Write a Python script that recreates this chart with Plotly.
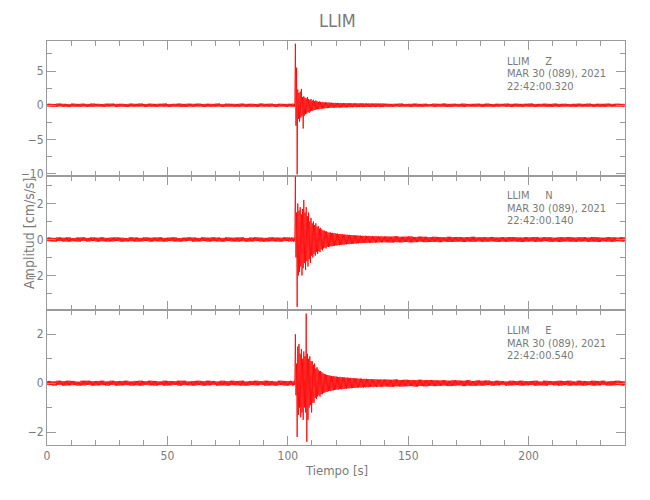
import plotly.graph_objects as go
from plotly.subplots import make_subplots

# ---------------- data ----------------
title_text = "LLIM"
station = "LLIM"
components = ["Z", "N", "E"]
date_text = "MAR 30 (089), 2021"
start_times = ["22:42:00.320", "22:42:00.140", "22:42:00.540"]
x_label = "Tiempo [s]"
y_label = "Amplitud [cm/s/s]"
x_ticks = [0, 50, 100, 150, 200]
y_ticks = [[-10, -5, 0, 5], [-4, -2, 0, 2], [-2, 0, 2]]
y_minor = [2.5, 1, 1]
y_ranges = [[-10.3, 9.4], [-3.94, 3.55], [-2.53, 2.98]]
x_range = [0, 240]

# time bins (s): 2 s bins before 100 s, 0.5 s bins 100-140 s, 2 s bins after 140 s
bin_start = list(range(0, 100, 2)) + [100 + 0.5 * k for k in range(80)] + list(range(140, 240, 2))
bin_width = [2] * 50 + [0.5] * 80 + [2] * 50

# per-bin maximum / minimum amplitude
Z_hi = [
    0.22, 0.19, 0.25, 0.21, 0.17, 0.24, 0.20, 0.23, 0.19, 0.25,
    0.21, 0.18, 0.23, 0.24, 0.20, 0.22, 0.17, 0.24, 0.21, 0.25,
    0.19, 0.23, 0.20, 0.22, 0.25, 0.18, 0.21, 0.24, 0.20, 0.23,
    0.21, 0.24, 0.19, 0.22, 0.20, 0.25, 0.17, 0.23, 0.21, 0.20,
    0.24, 0.20, 0.22, 0.19, 0.25, 0.21, 0.23, 0.18, 0.22, 0.20,
    0.21, 0.23, 0.20, 0.22, 0.25, 0.20, 9.00, 5.50, 2.30, 1.80,
    2.00, 2.40, 1.20, 1.30, 1.10, 1.00, 1.20, 0.90, 0.80, 0.90,
    0.70, 0.80, 0.60, 0.70, 0.60, 0.50, 0.55, 0.50, 0.45, 0.50,
    0.40, 0.45, 0.40, 0.38, 0.42, 0.36, 0.38, 0.35, 0.34, 0.36,
    0.33, 0.35, 0.31, 0.34, 0.32, 0.30, 0.33, 0.31, 0.29, 0.32,
    0.30, 0.28, 0.31, 0.29, 0.27, 0.30, 0.28, 0.26, 0.29, 0.27,
    0.28, 0.26, 0.29, 0.25, 0.27, 0.28, 0.24, 0.27, 0.26, 0.25,
    0.27, 0.24, 0.26, 0.28, 0.25, 0.26, 0.23, 0.27, 0.25, 0.26,
    0.23, 0.20, 0.22, 0.25, 0.19, 0.21, 0.24, 0.20, 0.22, 0.18,
    0.23, 0.21, 0.25, 0.20, 0.22, 0.20, 0.24, 0.19, 0.21, 0.23,
    0.20, 0.24, 0.18, 0.22, 0.21, 0.24, 0.20, 0.23, 0.20, 0.22,
    0.25, 0.19, 0.21, 0.23, 0.20, 0.24, 0.20, 0.22, 0.18, 0.21,
    0.23, 0.20, 0.24, 0.19, 0.22, 0.21, 0.24, 0.20, 0.23, 0.20,
]
Z_lo = [
    -0.20, -0.24, -0.18, -0.22, -0.25, -0.20, -0.23, -0.19, -0.24, -0.21,
    -0.19, -0.23, -0.21, -0.17, -0.24, -0.20, -0.25, -0.20, -0.22, -0.18,
    -0.24, -0.20, -0.23, -0.19, -0.21, -0.24, -0.20, -0.22, -0.25, -0.20,
    -0.22, -0.18, -0.24, -0.21, -0.23, -0.19, -0.24, -0.20, -0.22, -0.24,
    -0.20, -0.23, -0.21, -0.24, -0.19, -0.22, -0.20, -0.24, -0.18, -0.23,
    -0.20, -0.19, -0.23, -0.21, -0.20, -0.24, -3.00, -10.10, -2.00, -2.40,
    -1.80, -1.60, -3.40, -1.50, -1.30, -1.20, -1.00, -1.10, -0.90, -0.80,
    -0.80, -0.70, -0.70, -0.60, -0.60, -0.60, -0.50, -0.50, -0.50, -0.45,
    -0.45, -0.40, -0.42, -0.40, -0.36, -0.38, -0.35, -0.37, -0.35, -0.33,
    -0.34, -0.32, -0.35, -0.31, -0.33, -0.30, -0.32, -0.29, -0.31, -0.30,
    -0.28, -0.30, -0.27, -0.29, -0.28, -0.26, -0.29, -0.27, -0.25, -0.28,
    -0.26, -0.28, -0.25, -0.27, -0.24, -0.27, -0.26, -0.24, -0.28, -0.25,
    -0.26, -0.24, -0.27, -0.25, -0.23, -0.26, -0.28, -0.24, -0.25, -0.27,
    -0.21, -0.24, -0.19, -0.22, -0.20, -0.24, -0.20, -0.23, -0.21, -0.18,
    -0.23, -0.20, -0.22, -0.25, -0.20, -0.21, -0.24, -0.19, -0.22, -0.20,
    -0.24, -0.20, -0.23, -0.21, -0.18, -0.22, -0.24, -0.20, -0.23, -0.19,
    -0.21, -0.24, -0.20, -0.22, -0.25, -0.20, -0.23, -0.19, -0.21, -0.24,
    -0.20, -0.22, -0.20, -0.23, -0.21, -0.24, -0.19, -0.22, -0.20, -0.23,
]
N_hi = [
    0.11, 0.09, 0.12, 0.10, 0.12, 0.08, 0.11, 0.12, 0.09, 0.12,
    0.10, 0.12, 0.09, 0.11, 0.12, 0.10, 0.08, 0.12, 0.11, 0.09,
    0.12, 0.10, 0.11, 0.12, 0.09, 0.11, 0.12, 0.08, 0.10, 0.12,
    0.11, 0.09, 0.12, 0.10, 0.12, 0.11, 0.09, 0.12, 0.10, 0.11,
    0.12, 0.08, 0.11, 0.12, 0.10, 0.09, 0.12, 0.11, 0.10, 0.12,
    0.11, 0.12, 0.09, 0.12, 0.11, 0.10, 3.50, 1.50, 2.00, 1.60,
    1.80, 1.40, 1.70, 2.20, 1.50, 1.80, 1.30, 1.50, 1.00, 1.20,
    0.90, 1.00, 0.80, 0.90, 0.70, 0.75, 0.60, 0.65, 0.55, 0.50,
    0.50, 0.45, 0.45, 0.40, 0.38, 0.40, 0.36, 0.37, 0.34, 0.35,
    0.32, 0.33, 0.30, 0.31, 0.29, 0.30, 0.27, 0.28, 0.26, 0.27,
    0.25, 0.26, 0.24, 0.25, 0.23, 0.24, 0.22, 0.23, 0.22, 0.21,
    0.22, 0.20, 0.21, 0.19, 0.21, 0.20, 0.18, 0.20, 0.19, 0.18,
    0.19, 0.17, 0.18, 0.19, 0.17, 0.18, 0.16, 0.18, 0.17, 0.16,
    0.17, 0.16, 0.18, 0.15, 0.16, 0.17, 0.14, 0.16, 0.15, 0.13,
    0.15, 0.14, 0.12, 0.15, 0.13, 0.14, 0.12, 0.13, 0.15, 0.12,
    0.13, 0.12, 0.14, 0.11, 0.13, 0.12, 0.14, 0.12, 0.11, 0.13,
    0.12, 0.14, 0.11, 0.13, 0.12, 0.10, 0.13, 0.12, 0.14, 0.11,
    0.12, 0.13, 0.11, 0.14, 0.12, 0.10, 0.13, 0.12, 0.11, 0.13,
]
N_lo = [
    -0.10, -0.12, -0.09, -0.11, -0.12, -0.10, -0.12, -0.08, -0.11, -0.09,
    -0.12, -0.10, -0.12, -0.11, -0.09, -0.12, -0.11, -0.10, -0.12, -0.11,
    -0.09, -0.12, -0.10, -0.11, -0.12, -0.09, -0.11, -0.12, -0.10, -0.08,
    -0.12, -0.11, -0.09, -0.12, -0.10, -0.11, -0.12, -0.09, -0.11, -0.12,
    -0.10, -0.12, -0.11, -0.09, -0.12, -0.12, -0.10, -0.11, -0.12, -0.09,
    -0.12, -0.10, -0.11, -0.09, -0.12, -0.11, -1.00, -3.75, -2.00, -1.80,
    -1.50, -2.00, -1.60, -1.30, -1.70, -1.20, -1.50, -1.10, -1.30, -0.90,
    -1.00, -0.80, -0.90, -0.70, -0.80, -0.65, -0.70, -0.55, -0.60, -0.50,
    -0.45, -0.50, -0.40, -0.42, -0.40, -0.37, -0.38, -0.35, -0.36, -0.33,
    -0.34, -0.31, -0.32, -0.29, -0.30, -0.28, -0.29, -0.26, -0.27, -0.25,
    -0.26, -0.24, -0.25, -0.23, -0.24, -0.22, -0.23, -0.21, -0.22, -0.20,
    -0.21, -0.19, -0.20, -0.18, -0.20, -0.19, -0.17, -0.19, -0.18, -0.17,
    -0.18, -0.16, -0.18, -0.17, -0.16, -0.17, -0.15, -0.17, -0.16, -0.15,
    -0.16, -0.17, -0.15, -0.16, -0.14, -0.16, -0.15, -0.13, -0.15, -0.14,
    -0.13, -0.15, -0.12, -0.14, -0.13, -0.12, -0.14, -0.12, -0.13, -0.11,
    -0.13, -0.12, -0.11, -0.14, -0.12, -0.13, -0.11, -0.12, -0.14, -0.12,
    -0.11, -0.13, -0.12, -0.10, -0.13, -0.12, -0.14, -0.11, -0.12, -0.13,
    -0.12, -0.11, -0.13, -0.12, -0.14, -0.11, -0.12, -0.13, -0.10, -0.12,
]
E_hi = [
    0.09, 0.07, 0.10, 0.08, 0.10, 0.09, 0.06, 0.10, 0.10, 0.08,
    0.09, 0.10, 0.07, 0.10, 0.08, 0.09, 0.10, 0.07, 0.09, 0.10,
    0.08, 0.10, 0.09, 0.07, 0.10, 0.09, 0.08, 0.10, 0.10, 0.07,
    0.09, 0.10, 0.08, 0.10, 0.09, 0.07, 0.10, 0.08, 0.10, 0.09,
    0.10, 0.07, 0.09, 0.10, 0.08, 0.10, 0.09, 0.07, 0.10, 0.09,
    0.09, 0.08, 0.10, 0.09, 0.07, 0.10, 2.00, 0.80, 1.50, 1.60,
    1.20, 1.40, 1.00, 1.30, 1.10, 2.85, 1.20, 1.00, 1.10, 0.90,
    0.90, 0.75, 0.80, 0.60, 0.65, 0.55, 0.50, 0.50, 0.45, 0.40,
    0.38, 0.36, 0.34, 0.33, 0.32, 0.30, 0.30, 0.28, 0.29, 0.27,
    0.27, 0.26, 0.25, 0.26, 0.24, 0.25, 0.23, 0.24, 0.22, 0.23,
    0.22, 0.21, 0.22, 0.20, 0.21, 0.20, 0.19, 0.20, 0.19, 0.18,
    0.19, 0.18, 0.17, 0.18, 0.17, 0.18, 0.16, 0.17, 0.16, 0.17,
    0.16, 0.15, 0.16, 0.15, 0.16, 0.14, 0.15, 0.16, 0.14, 0.15,
    0.15, 0.14, 0.15, 0.13, 0.14, 0.13, 0.12, 0.14, 0.12, 0.13,
    0.12, 0.11, 0.12, 0.10, 0.12, 0.11, 0.10, 0.12, 0.09, 0.11,
    0.10, 0.11, 0.08, 0.10, 0.09, 0.07, 0.10, 0.09, 0.10, 0.08,
    0.09, 0.10, 0.07, 0.10, 0.09, 0.08, 0.10, 0.09, 0.10, 0.07,
    0.10, 0.09, 0.08, 0.10, 0.09, 0.10, 0.07, 0.09, 0.10, 0.08,
]
E_lo = [
    -0.08, -0.10, -0.07, -0.10, -0.09, -0.08, -0.10, -0.09, -0.07, -0.10,
    -0.09, -0.08, -0.10, -0.07, -0.10, -0.09, -0.08, -0.10, -0.09, -0.10,
    -0.07, -0.09, -0.10, -0.08, -0.10, -0.09, -0.07, -0.10, -0.08, -0.09,
    -0.10, -0.08, -0.10, -0.09, -0.07, -0.10, -0.09, -0.10, -0.08, -0.09,
    -0.10, -0.10, -0.08, -0.09, -0.07, -0.10, -0.09, -0.10, -0.08, -0.10,
    -0.10, -0.09, -0.07, -0.10, -0.09, -0.08, -0.50, -2.20, -1.30, -1.00,
    -1.40, -1.20, -1.50, -1.00, -1.20, -2.40, -1.50, -1.00, -0.90, -1.20,
    -0.80, -0.80, -0.60, -0.65, -0.55, -0.50, -0.55, -0.45, -0.45, -0.40,
    -0.38, -0.36, -0.35, -0.33, -0.31, -0.32, -0.29, -0.30, -0.28, -0.27,
    -0.26, -0.27, -0.25, -0.24, -0.25, -0.23, -0.24, -0.22, -0.23, -0.21,
    -0.22, -0.20, -0.21, -0.20, -0.19, -0.20, -0.18, -0.19, -0.18, -0.17,
    -0.18, -0.17, -0.18, -0.16, -0.17, -0.16, -0.17, -0.15, -0.16, -0.15,
    -0.16, -0.15, -0.14, -0.16, -0.15, -0.14, -0.15, -0.14, -0.15, -0.13,
    -0.14, -0.15, -0.13, -0.14, -0.13, -0.12, -0.14, -0.12, -0.13, -0.11,
    -0.12, -0.11, -0.10, -0.12, -0.11, -0.09, -0.12, -0.10, -0.11, -0.10,
    -0.10, -0.08, -0.10, -0.09, -0.07, -0.10, -0.09, -0.08, -0.10, -0.09,
    -0.08, -0.10, -0.09, -0.10, -0.07, -0.09, -0.10, -0.08, -0.10, -0.09,
    -0.09, -0.10, -0.08, -0.10, -0.09, -0.07, -0.10, -0.09, -0.08, -0.10,
]
traces_hi = [Z_hi, N_hi, E_hi]
traces_lo = [Z_lo, N_lo, E_lo]

# ---------------- style ----------------
FONT = "Liberation Sans Narrow, DejaVu Sans Condensed, Arial Narrow, sans-serif"
AXIS = "#9a9a9a"
TEXT = "#7a7a7a"
RED = "#ff0000"
PAGE_OFF = 8                      # default body margin of the page
W, H = 650 - PAGE_OFF, 500 - PAGE_OFF
ML, MR, MT, MB = 47 - PAGE_OFF, 25, 41 - PAGE_OFF, 55
PW, PH = W - ML - MR, H - MT - MB
SUB = 0.5                         # seconds per hi/lo swing inside a bin

fig = make_subplots(rows=3, cols=1, shared_xaxes=True, vertical_spacing=0)

for i in range(3):
    xs, ys = [], []
    for t, w, h, l in zip(bin_start, bin_width, traces_hi[i], traces_lo[i]):
        n = int(round(w / SUB))
        for k in range(n):
            xs += [t + (k + 0.25) * SUB, t + (k + 0.75) * SUB]
            ys += [h, l]
    fig.add_trace(
        go.Scatter(x=xs, y=ys, mode="lines", line=dict(color=RED, width=0.85),
                   hoverinfo="skip", showlegend=False),
        row=i + 1, col=1,
    )
    fig.update_xaxes(
        range=x_range, showline=True, linecolor=AXIS, linewidth=1, mirror="allticks",
        ticks="inside", ticklen=9, tickcolor=AXIS, tickwidth=1,
        tickvals=x_ticks, showgrid=False, zeroline=False,
        minor=dict(ticks="inside", ticklen=5, tickcolor=AXIS, dtick=10, tick0=0, showgrid=False),
        showticklabels=(i == 2),
        tickfont=dict(family=FONT, size=12, color=TEXT),
        row=i + 1, col=1,
    )
    fig.update_yaxes(
        range=y_ranges[i], showline=True, linecolor=AXIS, linewidth=1, mirror="allticks",
        ticks="inside", ticklen=9, tickcolor=AXIS, tickwidth=1,
        tickvals=y_ticks[i], showgrid=False, zeroline=False,
        minor=dict(ticks="inside", ticklen=5, tickcolor=AXIS, dtick=y_minor[i], tick0=0, showgrid=False),
        tickfont=dict(family=FONT, size=12, color=TEXT),
        row=i + 1, col=1,
    )


def px(xp):
    """page pixel x -> paper coordinate"""
    return (xp - PAGE_OFF - ML) / PW


def py(yp):
    """page pixel y -> paper coordinate"""
    return (H - MB - (yp - PAGE_OFF)) / PH


annotations = []
panel_tops = [41, 175, 310]
nb = "\u00a0"
for i in range(3):
    lines = [station + nb * 5 + components[i], date_text, start_times[i]]
    for j, txt in enumerate(lines):
        annotations.append(dict(
            text=txt, xref="paper", yref="paper", x=px(505), y=py(panel_tops[i] + 20.5 + 12.5 * j),
            xanchor="left", yanchor="middle", showarrow=False,
            font=dict(family=FONT, size=11, color=TEXT),
        ))

annotations.append(dict(text=title_text, xref="paper", yref="paper", x=px(337), y=py(21),
                        xanchor="center", yanchor="middle", showarrow=False,
                        font=dict(family=FONT, size=18, color=TEXT)))
annotations.append(dict(text=x_label, xref="paper", yref="paper", x=px(336), y=py(470),
                        xanchor="center", yanchor="middle", showarrow=False,
                        font=dict(family=FONT, size=13, color=TEXT)))
annotations.append(dict(text=y_label, xref="paper", yref="paper", x=px(29), y=py(234),
                        xanchor="center", yanchor="middle", showarrow=False, textangle=-90,
                        font=dict(family=FONT, size=14, color=TEXT)))

fig.update_layout(
    width=W, height=H,
    margin=dict(l=ML, r=MR, t=MT, b=MB),
    paper_bgcolor="white", plot_bgcolor="white",
    annotations=annotations,
    font=dict(family=FONT, color=TEXT),
)

fig.write_html("out.html")
